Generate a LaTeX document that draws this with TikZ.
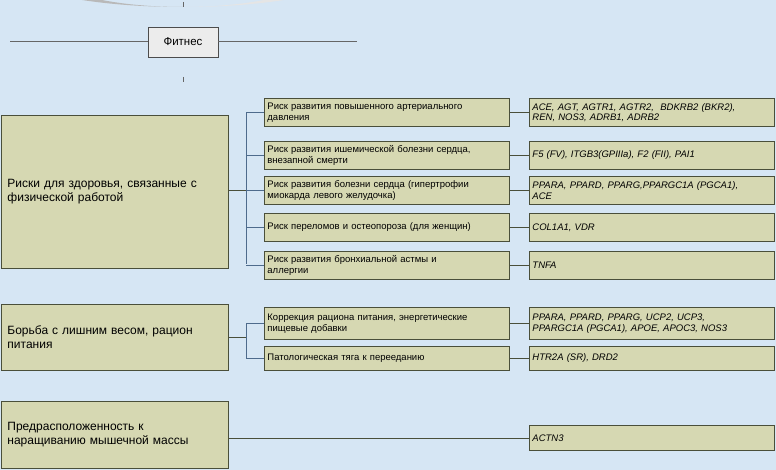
\documentclass[tikz,border=0pt]{standalone}
\usepackage{fontspec}
\setmainfont{Liberation Sans}
\definecolor{bg}{HTML}{D6E6F4}
\definecolor{boxf}{HTML}{D6D8B2}
\definecolor{boxd}{HTML}{4A4F3A}
\definecolor{br}{HTML}{4E6B8C}
\begin{document}
\begin{tikzpicture}[x=1pt,y=-1pt,
 bx/.style={draw=boxd,fill=boxf,line width=0.9pt,anchor=north west,inner sep=3pt,align=left,font=\fontsize{9.5}{10.5}\selectfont},
 big/.style={bx,font=\fontsize{12}{14}\selectfont},
 gene/.style={bx,font=\fontsize{9.5}{10.5}\selectfont\itshape},
 ln/.style={draw=boxd,line width=0.9pt},
 brl/.style={draw=br,line width=0.9pt}]
\fill[bg] (0,0) rectangle (776,470);
\useasboundingbox (0,0) rectangle (776,470);
% crescent
\fill[gray!55] (183,7) arc[start angle=90,end angle=270,x radius=168,y radius=35] arc[start angle=270,end angle=90,x radius=135,y radius=35];
\fill[gray!20] (183,7) arc[start angle=90,end angle=-90,x radius=168,y radius=35] arc[start angle=-90,end angle=90,x radius=135,y radius=35];
\draw[ln,draw=black!60] (183,2) -- (183,7) (183,77) -- (183,82);
\coordinate (hl) at (10,42); \coordinate (hr) at (357,42);
\node[draw=black!70,fill=gray!15,line width=0.9pt,minimum width=70pt,minimum height=30pt,font=\fontsize{11.5}{13}\selectfont] (fit) at (183,42) {Фитнес};
\draw[draw=black!60,line width=1pt] (hl) -- (fit) -- (hr);
% group 1
\node[big,minimum width=227pt,minimum height=153pt,text width=215pt] (g1) at (1,115) {Риски для здоровья, связанные с\\физической работой};
\foreach \n/\y/\a/\b in {
 1/98/{Риск развития повышенного артериального\\давления}/{ACE, AGT, AGTR1, AGTR2,\ \ BDKRB2 (BKR2),\\REN, NOS3, ADRB1, ADRB2},
 2/141/{Риск развития ишемической болезни сердца,\\внезапной смерти}/{F5 (FV), ITGB3(GPIIIa), F2 (FII), PAI1},
 3/176/{Риск развития болезни сердца (гипертрофии\\миокарда левого желудочка)}/{PPARA, PPARD, PPARG,PPARGC1A (PGCA1),\\ACE},
 4/213/{Риск переломов и остеопороза (для женщин)}/{COL1A1, VDR},
 5/251/{Риск развития бронхиальной астмы и\\аллергии}/{TNFA}}{
 \node[bx,minimum width=245pt,minimum height=28pt,text width=239pt] (m\n) at (264,\y) {\a};
 \node[gene,minimum width=245pt,minimum height=28pt,text width=239pt] (r\n) at (529,\y) {\b};
 \draw[ln] (m\n.east) -- (r\n.west);
}
\coordinate (j1) at (246,190);
\draw[ln] (g1.east |- j1) -- (j1);
\draw[brl] (246,113) -- (246,264);
\foreach \n in {1,...,5} \draw[brl] (246,0 |- m\n.west) -- (m\n.west);
% group 2
\node[big,minimum width=227pt,minimum height=66pt,text width=215pt] (g2) at (1,304) {Борьба с лишним весом, рацион\\питания};
\node[bx,minimum width=245pt,minimum height=32pt,text width=239pt] (m6) at (264,307) {Коррекция рациона питания, энергетические\\пищевые добавки};
\node[gene,minimum width=245pt,minimum height=32pt,text width=239pt] (r6) at (529,307) {PPARA, PPARD, PPARG, UCP2, UCP3,\\PPARGC1A (PGCA1), APOE, APOC3, NOS3};
\node[bx,minimum width=245pt,minimum height=24pt,text width=239pt] (m7) at (264,346) {Патологическая тяга к перееданию};
\node[gene,minimum width=245pt,minimum height=24pt,text width=239pt] (r7) at (529,346) {HTR2A (SR), DRD2};
\draw[ln] (m6.east) -- (r6.west);
\draw[ln] (m7.east) -- (r7.west);
\coordinate (j2) at (246,337);
\draw[ln] (g2.east |- j2) -- (j2);
\draw[brl] (246,0 |- m6.west) -- (246,0 |- m7.west);
\draw[brl] (246,0 |- m6.west) -- (m6.west);
\draw[brl] (246,0 |- m7.west) -- (m7.west);
% group 3
\node[big,minimum width=227pt,minimum height=67pt,text width=215pt] (g3) at (1,401) {Предрасположенность к\\наращиванию мышечной массы};
\node[gene,minimum width=245pt,minimum height=25pt,text width=239pt] (r8) at (529,425) {ACTN3};
\draw[ln] (g3.east |- r8.west) -- (r8.west);
\end{tikzpicture}
\end{document}
